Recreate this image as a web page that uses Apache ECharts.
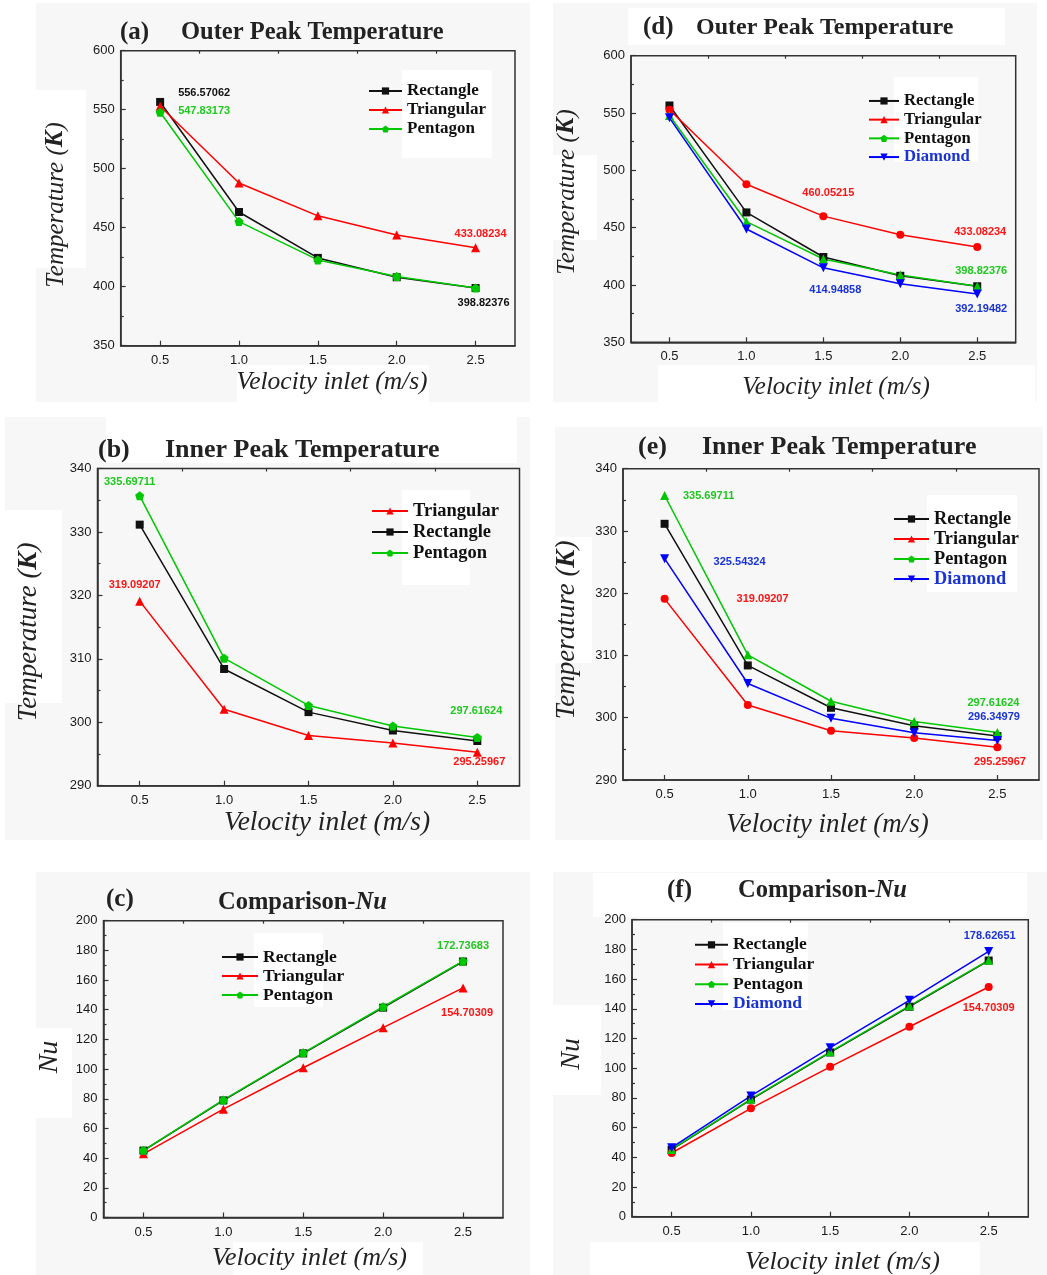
<!DOCTYPE html>
<html>
<head>
<meta charset="utf-8">
<script src="https://cdn.jsdelivr.net/npm/echarts@6/dist/echarts.min.js"></script>
<style>
  html, body { margin: 0; padding: 0; background: #fff; }
  #chart { width: 1047px; height: 1275px; }
</style>
</head>
<body>
<div id="chart"></div>
<script>
// velocity inlet (m/s)
const velocity = [0.5, 1.0, 1.5, 2.0, 2.5]
const minorX = [0.75, 1.25, 1.75, 2.25]

// outer peak temperature (K)
const outerRect = [556.57062, 463.3, 424.4, 408.0, 398.9]
const outerTri = [552.9, 487.9, 460.05215, 443.9, 433.08234]
const outerPent = [547.83173, 455.2, 422.7, 408.7, 398.82376]
const outerDiam = [545.8, 448.8, 414.94858, 401.0, 392.19482]

// inner peak temperature (K)
const innerRect = [331.15, 308.4, 301.6, 298.7, 297.05]
const innerTri = [319.09207, 302.05, 297.9, 296.73, 295.25967]
const innerPent = [335.69711, 310.1, 302.65, 299.4, 297.61624]
const innerDiam = [325.54324, 305.5, 299.9, 297.6, 296.34979]

// Nusselt number
const nuRect = [45.1, 78.9, 110.6, 141.4, 172.5]
const nuTri = [42.9, 73.0, 100.9, 127.9, 154.70309]
const nuPent = [45.3, 79.2, 111.0, 142.0, 172.73683]
const nuDiam = [46.5, 81.3, 113.8, 145.7, 178.62651]

const SERIF = 'Liberation Serif'
const SANS = 'Liberation Sans'
const BLACK = '#111'
const RED = '#ff0000'
const GREEN = '#00c800'
const BLUE = '#0000ff'
const RED_T = '#ff1414'
const GREEN_T = '#1ec81e'
const BLUE_T = '#1a34d4'

const PENTAGON = 'path://M5,0 L10,3.63 L8.09,9.51 L1.91,9.51 L0,3.63 Z'
const DOWN_TRI = 'path://M0,0 L10,0 L5,9 Z'

// marker styles: left column (3 shapes) / right column (4 shapes)
const style3 = {
  Rectangle: { color: BLACK, symbol: 'rect', size: 8 },
  Triangular: { color: RED, symbol: 'triangle', size: 9 },
  Pentagon: { color: GREEN, symbol: PENTAGON, size: 9 },
}
const style4 = {
  Rectangle: { color: BLACK, symbol: 'rect', size: 8 },
  Triangular: { color: RED, symbol: 'circle', size: 8 },
  Pentagon: { color: GREEN, symbol: 'triangle', size: 9 },
  Diamond: { color: BLUE, symbol: DOWN_TRI, size: 9 },
}

const panels = [
  {
    tag: '(a)', title: 'Outer Peak Temperature', kind: 'T',
    grid: { left: 120.7, top: 50.7, width: 394.3, height: 295 },
    y: { min: 350, max: 600, interval: 50 },
    styles: style3,
    series: [['Rectangle', outerRect], ['Triangular', outerTri], ['Pentagon', outerPent]],
    legend: { left: 363, top: 76.5, step: 19, font: 17, iw: 33 },
    notes: [
      { s: 'Rectangle', i: 0, dx: 44, dy: -9, c: BLACK },
      { s: 'Pentagon', i: 0, dx: 44, dy: -1, c: GREEN_T },
      { s: 'Triangular', i: 4, dx: 5, dy: -14, c: RED_T },
      { s: 'Pentagon', i: 4, dx: 8, dy: 15, c: BLACK },
    ],
    tagPos: [120, 33, 25], titlePos: [181, 33, 24.5],
    xName: [332, 382, 25.5], yName: [56, 205, 25],
  },
  {
    tag: '(d)', title: 'Outer Peak Temperature', kind: 'T',
    grid: { left: 631, top: 55.7, width: 384.7, height: 286.6 },
    y: { min: 350, max: 600, interval: 50 },
    styles: style4,
    series: [['Rectangle', outerRect], ['Triangular', outerTri], ['Pentagon', outerPent], ['Diamond', outerDiam]],
    legend: { left: 863, top: 86.6, step: 18.7, font: 16.7, iw: 30 },
    notes: [
      { s: 'Triangular', i: 2, dx: 5, dy: -23, c: RED_T },
      { s: 'Triangular', i: 4, dx: 3, dy: -15, c: RED_T },
      { s: 'Pentagon', i: 4, dx: 4, dy: -15, c: GREEN_T },
      { s: 'Diamond', i: 2, dx: 12, dy: 22, c: BLUE_T },
      { s: 'Diamond', i: 4, dx: 4, dy: 15, c: BLUE_T },
    ],
    tagPos: [643, 28, 25], titlePos: [696, 28, 24],
    xName: [836, 387, 25], yName: [567, 192, 25],
  },
  {
    tag: '(b)', title: 'Inner Peak Temperature', kind: 'T',
    grid: { left: 97.5, top: 468.5, width: 422, height: 317.2 },
    y: { min: 290, max: 340, interval: 10 },
    styles: style3,
    series: [['Triangular', innerTri], ['Rectangle', innerRect], ['Pentagon', innerPent]],
    legend: { left: 366, top: 495.5, step: 21, font: 18.5, iw: 36 },
    notes: [
      { s: 'Pentagon', i: 0, dx: -10, dy: -14, c: GREEN_T },
      { s: 'Triangular', i: 0, dx: -5, dy: -16, c: RED_T },
      { s: 'Pentagon', i: 4, dx: -1, dy: -26, c: GREEN_T },
      { s: 'Triangular', i: 4, dx: 2, dy: 10, c: RED_T },
    ],
    tagPos: [98, 450, 26], titlePos: [165, 450, 26],
    xName: [327, 823, 27.5], yName: [29, 632, 27],
  },
  {
    tag: '(e)', title: 'Inner Peak Temperature', kind: 'T',
    grid: { left: 623, top: 468.7, width: 416, height: 311.3 },
    y: { min: 290, max: 340, interval: 10 },
    styles: style4,
    series: [['Rectangle', innerRect], ['Triangular', innerTri], ['Pentagon', innerPent], ['Diamond', innerDiam]],
    legend: { left: 888, top: 504, step: 20, font: 18.3, iw: 35 },
    notes: [
      { s: 'Pentagon', i: 0, dx: 44, dy: 0, c: GREEN_T },
      { s: 'Diamond', i: 0, dx: 75, dy: 3, c: BLUE_T },
      { s: 'Triangular', i: 0, dx: 98, dy: 0, c: RED_T },
      { s: 'Pentagon', i: 4, dx: -4, dy: -30, c: GREEN_T },
      { s: 'Diamond', i: 4, dx: -3.5, dy: -23, c: BLUE_T },
      { s: 'Triangular', i: 4, dx: 2.5, dy: 15, c: RED_T },
    ],
    tagPos: [638, 447, 26], titlePos: [702, 447, 26],
    xName: [827.5, 825, 27], yName: [567, 630, 27],
  },
  {
    tag: '(c)', title: 'Comparison-', kind: 'Nu',
    grid: { left: 103.5, top: 920.7, width: 399.5, height: 296.8 },
    y: { min: 0, max: 200, interval: 20 },
    styles: style3,
    series: [['Rectangle', nuRect], ['Triangular', nuTri], ['Pentagon', nuPent]],
    legend: { left: 216, top: 942.5, step: 19, font: 17.5, iw: 36 },
    notes: [
      { s: 'Pentagon', i: 4, dx: 0, dy: -15, c: GREEN_T },
      { s: 'Triangular', i: 4, dx: 4, dy: 25, c: RED_T },
    ],
    tagPos: [106, 900, 25], titlePos: [218, 903, 24.5],
    xName: [309.5, 1258, 26], yName: [50, 1057, 28],
  },
  {
    tag: '(f)', title: 'Comparison-', kind: 'Nu',
    grid: { left: 632, top: 919.7, width: 396.3, height: 297 },
    y: { min: 0, max: 200, interval: 20 },
    styles: style4,
    series: [['Rectangle', nuRect], ['Triangular', nuTri], ['Pentagon', nuPent], ['Diamond', nuDiam]],
    legend: { left: 689, top: 930, step: 19.7, font: 17.5, iw: 33 },
    notes: [
      { s: 'Diamond', i: 4, dx: 1, dy: -15, c: BLUE_T },
      { s: 'Triangular', i: 4, dx: 0, dy: 21, c: RED_T },
    ],
    tagPos: [667, 891, 25], titlePos: [738, 891, 24.5],
    xName: [842.5, 1262, 26], yName: [572, 1054, 27],
  },
]

// faint grey panel backdrops and white patches (scanned-figure look)
const backdrops = [
  [36, 3, 494, 399], [553, 3, 484, 399], [5, 417, 525, 423],
  [555, 427, 488, 413], [36, 872, 494, 403], [553, 872, 494, 403],
]
const patches = [
  [402, 70, 90, 88], [894, 77, 84, 85], [402, 490, 68, 95],
  [927, 495, 90, 97], [254, 933, 69, 74], [723, 923, 85, 87],
  [36, 90, 50, 178], [553, 155, 44, 85], [5, 510, 57, 193],
  [555, 537, 37, 126], [36, 1028, 36, 90], [553, 1005, 48, 90],
  [628, 8, 377, 37], [593, 873, 434, 44], [106, 417, 411, 46],
  [237, 365, 192, 37], [658, 365, 377, 37], [233, 1242, 190, 33], [590, 1242, 390, 33],
]

const axisLine = { show: true, lineStyle: { color: '#333', width: 1.5 } }
const tickLine = { color: '#333', width: 1.2 }
const tickLabel = { color: '#1a1a1a', fontSize: 13, fontFamily: SANS }

const grids = []
const xAxes = []
const yAxes = []
const series = []
const legends = []
const graphics = []

backdrops.forEach(([x, y, w, h]) => {
  graphics.push({ type: 'rect', z: -20, silent: true, shape: { x, y, width: w, height: h }, style: { fill: '#f7f7f7' } })
})
patches.forEach(([x, y, w, h]) => {
  graphics.push({ type: 'rect', z: -10, silent: true, shape: { x, y, width: w, height: h }, style: { fill: '#ffffff' } })
})

panels.forEach((p, k) => {
  grids.push({ ...p.grid, show: true, borderColor: '#333', borderWidth: 1.5, backgroundColor: 'transparent' })

  xAxes.push({
    type: 'value', gridIndex: k, min: 0.25, max: 2.75,
    axisLine,
    axisTick: { show: true, inside: true, length: 5, customValues: velocity, lineStyle: tickLine },
    axisLabel: { ...tickLabel, customValues: velocity, margin: 8, formatter: v => v.toFixed(1) },
    splitLine: { show: false },
  })
  xAxes.push({
    type: 'value', gridIndex: k, min: 0.25, max: 2.75,
    axisLine: { show: false },
    axisTick: { show: true, inside: true, length: 3, customValues: minorX, lineStyle: tickLine },
    axisLabel: { show: false, customValues: minorX },
    splitLine: { show: false },
  })
  yAxes.push({
    type: 'value', gridIndex: k, min: p.y.min, max: p.y.max, interval: p.y.interval,
    axisLine,
    axisTick: { show: true, inside: true, length: 5, lineStyle: tickLine },
    minorTick: { show: true, splitNumber: 2, length: 3, lineStyle: tickLine },
    axisLabel: { ...tickLabel, margin: 6 },
    splitLine: { show: false },
  })

  p.series.forEach(([name, values]) => {
    const st = p.styles[name]
    series.push({
      type: 'line', name,
      xAxisIndex: 2 * k, yAxisIndex: k,
      symbol: st.symbol, symbolSize: st.size,
      lineStyle: { color: st.color, width: 1.5 },
      itemStyle: { color: st.color },
      label: { show: false, formatter: q => q.value[1].toFixed(5) },
      emphasis: { disabled: true },
      data: velocity.map((x, i) => {
        const note = p.notes.find(n => n.s === name && n.i === i)
        if (!note) return [x, values[i]]
        return {
          value: [x, values[i]],
          label: {
            show: true, position: 'inside', offset: [note.dx, note.dy],
            color: note.c, fontSize: 11, fontWeight: 'bold', fontFamily: SANS,
          },
        }
      }),
    })
  })

  const lg = p.legend
  legends.push({
    orient: 'vertical', left: lg.left, top: lg.top,
    itemWidth: lg.iw, itemHeight: 9, itemGap: 0,
    selectedMode: false,
    textStyle: { fontFamily: SERIF, fontWeight: 'bold', fontSize: lg.font, lineHeight: lg.step, color: BLACK },
    data: p.series.map(([name]) => name === 'Diamond'
      ? { name, textStyle: { color: BLUE_T } }
      : { name }),
  })

  // panel tag and title
  graphics.push({
    type: 'text', z: 10, x: p.tagPos[0], y: p.tagPos[1],
    style: { text: p.tag, fill: '#222', font: `bold ${p.tagPos[2]}px "${SERIF}"`, align: 'left', verticalAlign: 'middle' },
  })
  if (p.kind === 'Nu') {
    graphics.push({
      type: 'text', z: 10, x: p.titlePos[0], y: p.titlePos[1],
      style: {
        text: '{b|Comparison-}{i|Nu}', align: 'left', verticalAlign: 'middle',
        rich: {
          b: { fill: '#222', fontFamily: SERIF, fontWeight: 'bold', fontSize: p.titlePos[2] },
          i: { fill: '#222', fontFamily: SERIF, fontWeight: 'bold', fontStyle: 'italic', fontSize: p.titlePos[2] },
        },
      },
    })
  } else {
    graphics.push({
      type: 'text', z: 10, x: p.titlePos[0], y: p.titlePos[1],
      style: { text: p.title, fill: '#222', font: `bold ${p.titlePos[2]}px "${SERIF}"`, align: 'left', verticalAlign: 'middle' },
    })
  }

  // axis names
  graphics.push({
    type: 'text', z: 10, x: p.xName[0], y: p.xName[1],
    style: { text: 'Velocity inlet (m/s)', fill: '#222', font: `italic ${p.xName[2]}px "${SERIF}"`, align: 'center', verticalAlign: 'middle' },
  })
  graphics.push({
    type: 'text', z: 10, x: p.yName[0], y: p.yName[1], rotation: Math.PI / 2,
    style: p.kind === 'Nu'
      ? { text: 'Nu', fill: '#222', font: `italic ${p.yName[2]}px "${SERIF}"`, align: 'center', verticalAlign: 'middle' }
      : {
          text: '{n|Temperature (}{k|K}{n|)}', align: 'center', verticalAlign: 'middle',
          rich: {
            n: { fill: '#222', fontFamily: SERIF, fontStyle: 'italic', fontSize: p.yName[2] },
            k: { fill: '#222', fontFamily: SERIF, fontStyle: 'italic', fontWeight: 'bold', fontSize: p.yName[2] },
          },
        },
  })
})

const chart = echarts.init(document.getElementById('chart'))
chart.setOption({
  animation: false,
  backgroundColor: '#ffffff',
  grid: grids,
  xAxis: xAxes,
  yAxis: yAxes,
  legend: legends,
  series,
  graphic: { elements: graphics },
})
</script>
</body>
</html>
